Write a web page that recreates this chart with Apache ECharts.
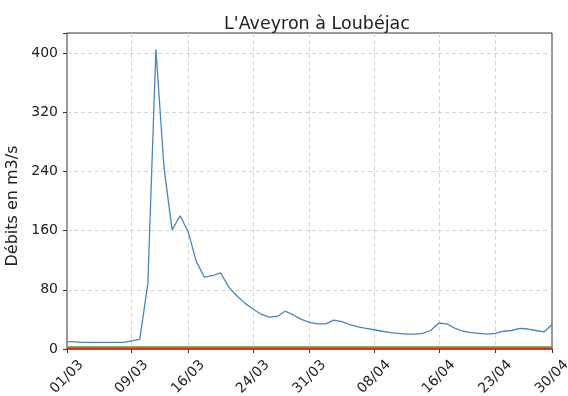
<!DOCTYPE html>
<html>
<head>
<meta charset="utf-8">
<script src="https://cdn.jsdelivr.net/npm/echarts@6/dist/echarts.min.js"></script>
<style>
  html, body { margin: 0; padding: 0; background: #fff; }
  #chart { width: 568px; height: 396px; }
</style>
</head>
<body>
<div id="chart"></div>
<script>
// Daily dates, 1 March to 30 April
const dates = [
  '01/03','02/03','03/03','04/03','05/03','06/03','07/03','08/03','09/03','10/03',
  '11/03','12/03','13/03','14/03','15/03','16/03','17/03','18/03','19/03','20/03',
  '21/03','22/03','23/03','24/03','25/03','26/03','27/03','28/03','29/03','30/03',
  '31/03','01/04','02/04','03/04','04/04','05/04','06/04','07/04','08/04','09/04',
  '10/04','11/04','12/04','13/04','14/04','15/04','16/04','17/04','18/04','19/04',
  '20/04','21/04','22/04','23/04','24/04','25/04','26/04','27/04','28/04','29/04',
  '30/04'
];

// Daily mean discharge (m3/s)
const flow = [
  10, 9.5, 9, 9, 9, 9, 9, 9, 11, 13,
  88, 405, 245, 161, 180, 158, 118, 97, 99, 103,
  84, 72, 62, 54, 47, 43, 44, 51, 46, 40,
  36, 34, 34, 39, 37, 33, 30, 28, 26, 24,
  22, 21, 20, 20, 21, 25, 35, 34, 28, 24,
  22, 21, 20, 21, 24, 25, 28, 27, 25, 23,
  33
];

// Horizontal reference levels near the bottom (m3/s)
const lowLevels = [4, 1.5];
const lowLevelColors = ['#a0a040', '#d42a2a'];
const lowLevelWidths = [1, 2.6];

// Dates carrying an x tick label and a vertical grid line
const tickDates = ['01/03','09/03','16/03','24/03','31/03','08/04','16/04','23/04','30/04'];

const yTicks = [0, 80, 160, 240, 320, 400];

const font = 'DejaVu Sans';
const chart = echarts.init(document.getElementById('chart'), null, { renderer: 'canvas' });

const showTick = (idx, val) => tickDates.indexOf(val) >= 0;
// inner grid lines only; the frame is drawn by the grid border
const showInnerLine = (idx, val) => showTick(idx, val) && idx > 0 && idx < dates.length - 1;

chart.setOption({
  animation: false,
  backgroundColor: '#fff',
  title: {
    text: "L'Aveyron à Loubéjac",
    left: 312, top: 10, textAlign: 'center',
    textStyle: { fontFamily: font, fontSize: 17.5, fontWeight: 'normal', color: '#222' }
  },
  grid: {
    left: 67, right: 16, top: 33, bottom: 47,
    outerBoundsMode: 'none',
    containLabel: false,
    show: true, borderColor: '#333', borderWidth: 1, backgroundColor: 'transparent'
  },
  xAxis: {
    type: 'category',
    data: dates,
    boundaryGap: false,
    axisLine: { show: false },
    axisTick: { show: true, interval: showTick, length: 4, lineStyle: { color: '#333' } },
    axisLabel: {
      interval: showTick,
      rotate: 45,
      align: 'center',
      verticalAlign: 'middle',
      margin: 28,
      hideOverlap: false,
      fontFamily: font, fontSize: 14, color: '#222'
    },
    splitLine: {
      show: true, interval: showInnerLine,
      lineStyle: { color: '#d4d4d4', type: [4, 3], width: 1 }
    }
  },
  yAxis: {
    type: 'value',
    min: 0, max: 427, interval: 80,
    name: 'Débits en m3/s',
    nameLocation: 'middle',
    nameGap: 40,
    nameTextStyle: { fontFamily: font, fontSize: 16, color: '#222', padding: [0, 30, 0, 0] },
    axisLine: { show: false },
    axisTick: { show: true, length: 4, lineStyle: { color: '#333' } },
    axisLabel: {
      fontFamily: font, fontSize: 14, color: '#222', margin: 9,
      formatter: v => (yTicks.indexOf(v) >= 0 ? String(v) : '')
    },
    splitLine: {
      show: true, showMinLine: false, showMaxLine: false,
      lineStyle: { color: '#d4d4d4', type: [4, 3], width: 1 }
    }
  },
  series: [
    {
      type: 'line',
      data: flow,
      showSymbol: false,
      lineStyle: { color: '#4a84be', width: 1.3 },
      itemStyle: { color: '#4a84be' },
      z: 3,
      markLine: {
        silent: true,
        symbol: 'none',
        label: { show: false },
        data: lowLevels.map((v, i) => ({
          yAxis: v,
          lineStyle: { color: lowLevelColors[i], type: 'solid', width: lowLevelWidths[i] }
        }))
      }
    }
  ]
});
</script>
</body>
</html>
